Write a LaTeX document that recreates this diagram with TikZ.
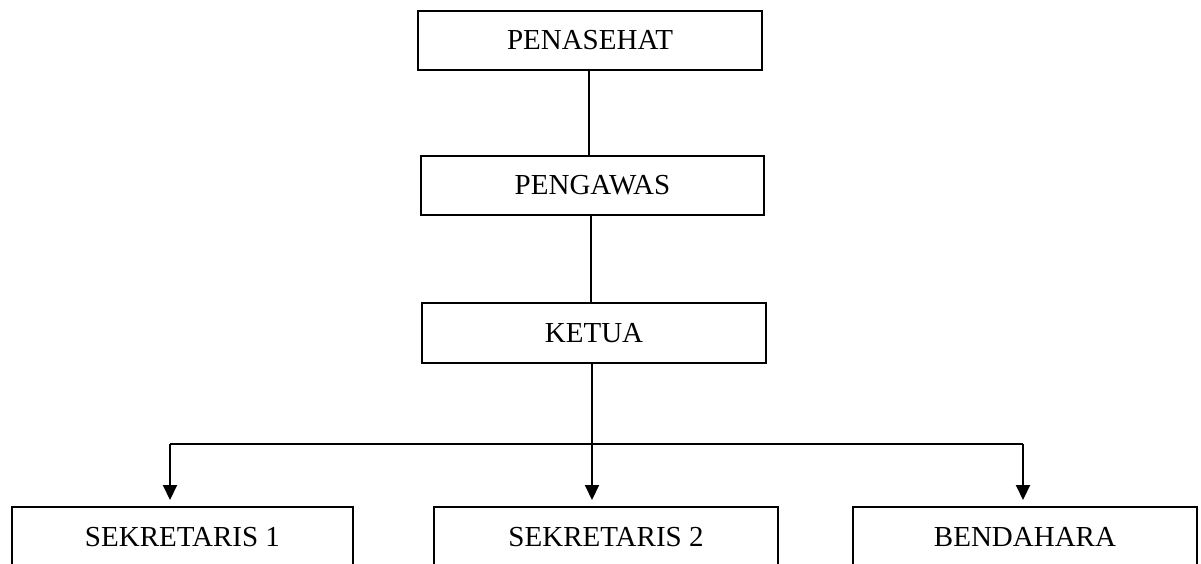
\documentclass[tikz,border=0pt]{standalone}
\usepackage{fontspec}
\setmainfont{Liberation Serif}
\usetikzlibrary{arrows.meta}
\begin{document}
\begin{tikzpicture}[x=1pt,y=-1pt,
  box/.style={draw,line width=2pt,inner sep=0pt,minimum height=60pt,font=\fontsize{29}{34}\selectfont},
  conn/.style={line width=1.4pt},
  arr/.style={line width=2pt,-{Triangle[width=14pt,length=15pt]}}]
\useasboundingbox (0,0) rectangle (1201,563);
\node[box,minimum width=344pt,minimum height=59pt] (pen) at (590,40.5) {PENASEHAT};
\node[box,minimum width=343pt,minimum height=59pt] (peng) at (592.5,185.5) {PENGAWAS};
\node[box,minimum width=344pt] (ket) at (594,333) {KETUA};
\node[box,minimum width=341pt] (sek1) at (182.5,537) {SEKRETARIS 1};
\node[box,minimum width=344pt] (sek2) at (606,537) {SEKRETARIS 2};
\node[box,minimum width=344pt] (bend) at (1025,537) {BENDAHARA};
\coordinate (bus) at (0,444);
\coordinate (t1) at (170,500);
\coordinate (t2) at (592,500);
\coordinate (t3) at (1023,500);
\draw[conn] ([xshift=-1pt]pen.south) -- ([xshift=-1pt]pen.south |- peng.north);
\draw[conn] ([xshift=-1.5pt]peng.south) -- ([xshift=-1.5pt]peng.south |- ket.north);
\draw[conn] (t1 |- bus) -- (t3 |- bus);
\draw[arr] ([xshift=-2pt]ket.south) -- (t2);
\draw[arr] (t1 |- bus) -- (t1);
\draw[arr] (t3 |- bus) -- (t3);
\end{tikzpicture}
\end{document}
